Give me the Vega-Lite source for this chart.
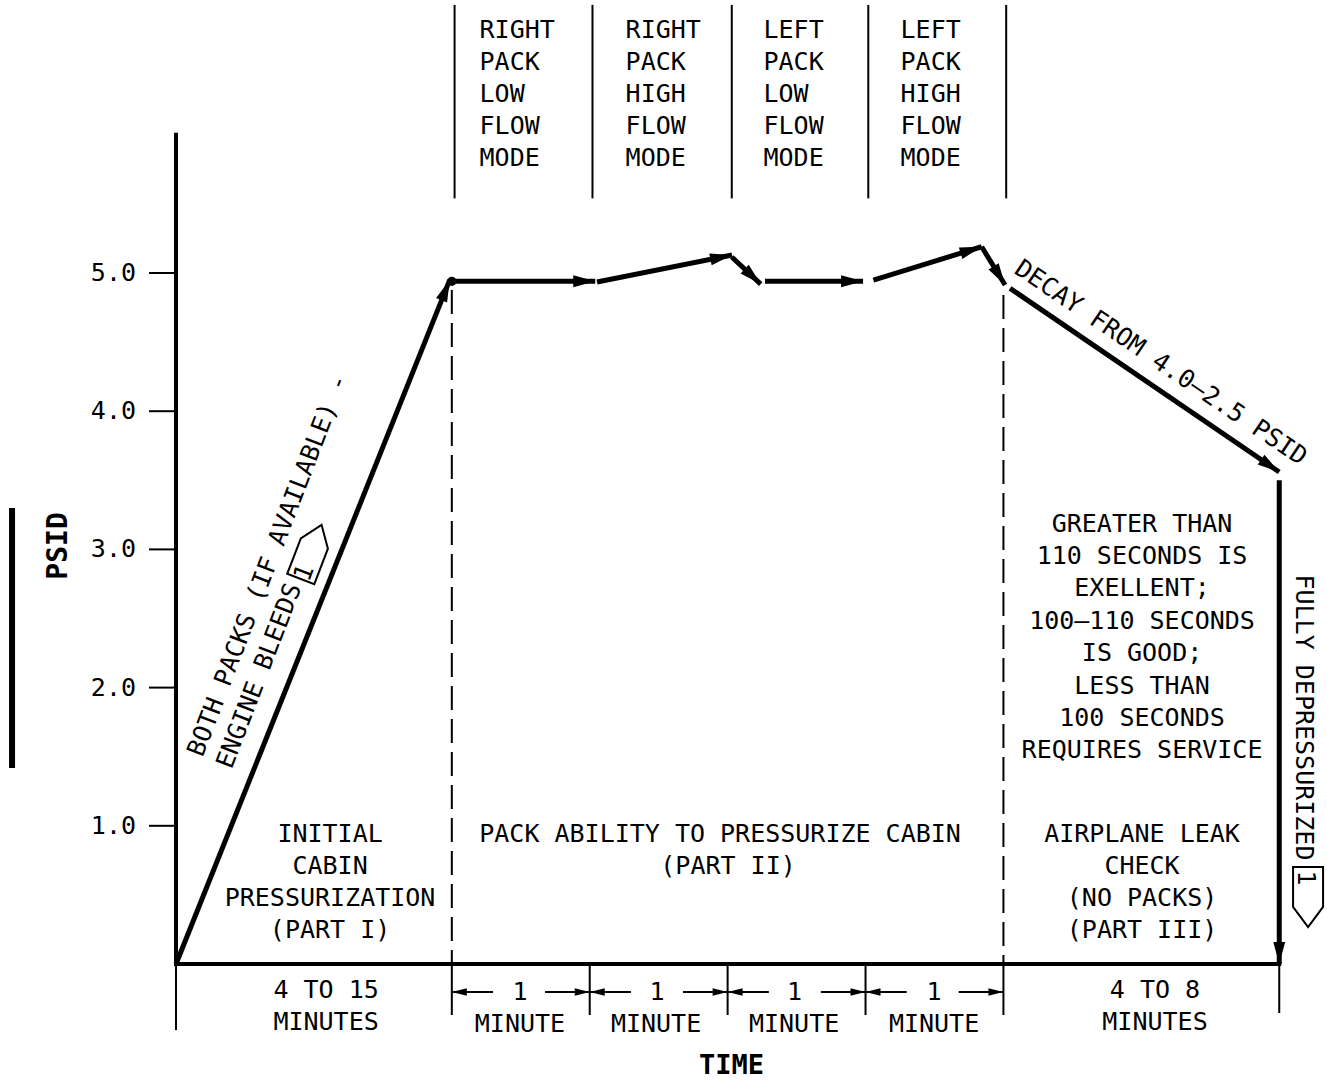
{
  "$schema": "https://vega.github.io/schema/vega-lite/v6.json",
  "width": 1327,
  "height": 1082,
  "autosize": {"type": "none"},
  "padding": 0,
  "background": "white",
  "config": {
    "view": {"stroke": null},
    "text": {"font": "DejaVu Sans Mono", "fontSize": 25, "color": "black", "baseline": "middle"}
  },
  "datasets": {
    "segs": [
      {"k": "thin", "x": 2.02, "y": 5.54, "x2": 2.02, "y2": 6.94},
      {"k": "thin", "x": 3.02, "y": 5.54, "x2": 3.02, "y2": 6.94},
      {"k": "thin", "x": 4.03, "y": 5.54, "x2": 4.03, "y2": 6.94},
      {"k": "thin", "x": 5.02, "y": 5.54, "x2": 5.02, "y2": 6.94},
      {"k": "thin", "x": 6.02, "y": 5.54, "x2": 6.02, "y2": 6.94},
      {"k": "thin", "x": -0.196, "y": 1, "x2": 0, "y2": 1},
      {"k": "thin", "x": -0.196, "y": 2, "x2": 0, "y2": 2},
      {"k": "thin", "x": -0.196, "y": 3, "x2": 0, "y2": 3},
      {"k": "thin", "x": -0.196, "y": 4, "x2": 0, "y2": 4},
      {"k": "thin", "x": -0.196, "y": 5, "x2": 0, "y2": 5},
      {"k": "thin", "x": 0, "y": 0, "x2": 0, "y2": -0.478},
      {"k": "thin", "x": 2, "y": 0, "x2": 2, "y2": -0.369},
      {"k": "thin", "x": 3, "y": 0, "x2": 3, "y2": -0.369},
      {"k": "thin", "x": 4, "y": 0, "x2": 4, "y2": -0.369},
      {"k": "thin", "x": 5, "y": 0, "x2": 5, "y2": -0.369},
      {"k": "thin", "x": 6, "y": 0, "x2": 6, "y2": -0.369},
      {"k": "thin", "x": 8, "y": 0, "x2": 8, "y2": -0.355},
      {"k": "axis", "x": 0, "y": 0, "x2": 8, "y2": 0},
      {"k": "axis", "x": 0, "y": 0, "x2": 0, "y2": 6.0},
      {"k": "dash", "x": 2.0, "y": 4.877, "x2": 2.0, "y2": 0},
      {"k": "dash", "x": 6.0, "y": 4.84, "x2": 6.0, "y2": 0},
      {"k": "rev", "x": -1.189, "y": 3.30, "x2": -1.189, "y2": 1.418},
      {"k": "curve", "arrow": true, "x": 0, "y": 0, "x2": 1.985, "y2": 4.95},
      {"k": "curve", "arrow": true, "x": 2.0, "y": 4.94, "x2": 3.04, "y2": 4.94},
      {"k": "curve", "arrow": true, "x": 3.053, "y": 4.935, "x2": 4.032, "y2": 5.13},
      {"k": "curve", "arrow": true, "x": 4.03, "y": 5.116, "x2": 4.24, "y2": 4.92},
      {"k": "curve", "arrow": true, "x": 4.271, "y": 4.94, "x2": 4.982, "y2": 4.94},
      {"k": "curve", "arrow": true, "x": 5.057, "y": 4.949, "x2": 5.842, "y2": 5.19},
      {"k": "curve", "arrow": true, "x": 5.842, "y": 5.19, "x2": 6.012, "y2": 4.913},
      {"k": "curve", "arrow": true, "x": 6.048, "y": 4.889, "x2": 8.0, "y2": 3.56},
      {"k": "curve", "arrow": true, "x": 8.0, "y": 3.50, "x2": 8.0, "y2": 0.0},
      {"k": "dim", "arrow": true, "x": 2.299, "y": -0.203, "x2": 2.0, "y2": -0.203},
      {"k": "dim", "arrow": true, "x": 2.676, "y": -0.203, "x2": 3.0, "y2": -0.203},
      {"k": "dim", "arrow": true, "x": 3.299, "y": -0.203, "x2": 3.0, "y2": -0.203},
      {"k": "dim", "arrow": true, "x": 3.676, "y": -0.203, "x2": 4.0, "y2": -0.203},
      {"k": "dim", "arrow": true, "x": 4.299, "y": -0.203, "x2": 4.0, "y2": -0.203},
      {"k": "dim", "arrow": true, "x": 4.676, "y": -0.203, "x2": 5.0, "y2": -0.203},
      {"k": "dim", "arrow": true, "x": 5.299, "y": -0.203, "x2": 5.0, "y2": -0.203},
      {"k": "dim", "arrow": true, "x": 5.676, "y": -0.203, "x2": 6.0, "y2": -0.203}
    ],
    "pts": [
      {"r": "dot", "x": 2.0, "y": 4.94},
      {"r": "pent_d", "x": 0.98, "y": 2.982},
      {"r": "pent_v", "x": 8.209, "y": 0.485}
    ],
    "labels": [
      {"g": "hl", "t": "RIGHT", "x": 2.201, "y": 6.758},
      {"g": "hl", "t": "PACK", "x": 2.201, "y": 6.527},
      {"g": "hl", "t": "LOW", "x": 2.201, "y": 6.295},
      {"g": "hl", "t": "FLOW", "x": 2.201, "y": 6.064},
      {"g": "hl", "t": "MODE", "x": 2.201, "y": 5.832},
      {"g": "hl", "t": "RIGHT", "x": 3.26, "y": 6.758},
      {"g": "hl", "t": "PACK", "x": 3.26, "y": 6.527},
      {"g": "hl", "t": "HIGH", "x": 3.26, "y": 6.295},
      {"g": "hl", "t": "FLOW", "x": 3.26, "y": 6.064},
      {"g": "hl", "t": "MODE", "x": 3.26, "y": 5.832},
      {"g": "hl", "t": "LEFT", "x": 4.26, "y": 6.758},
      {"g": "hl", "t": "PACK", "x": 4.26, "y": 6.527},
      {"g": "hl", "t": "LOW", "x": 4.26, "y": 6.295},
      {"g": "hl", "t": "FLOW", "x": 4.26, "y": 6.064},
      {"g": "hl", "t": "MODE", "x": 4.26, "y": 5.832},
      {"g": "hl", "t": "LEFT", "x": 5.254, "y": 6.758},
      {"g": "hl", "t": "PACK", "x": 5.254, "y": 6.527},
      {"g": "hl", "t": "HIGH", "x": 5.254, "y": 6.295},
      {"g": "hl", "t": "FLOW", "x": 5.254, "y": 6.064},
      {"g": "hl", "t": "MODE", "x": 5.254, "y": 5.832},
      {"g": "hr", "t": "1.0", "x": -0.29, "y": 1},
      {"g": "hr", "t": "2.0", "x": -0.29, "y": 2},
      {"g": "hr", "t": "3.0", "x": -0.29, "y": 3},
      {"g": "hr", "t": "4.0", "x": -0.29, "y": 4},
      {"g": "hr", "t": "5.0", "x": -0.29, "y": 5},
      {"g": "hc", "t": "INITIAL", "x": 1.117, "y": 0.941},
      {"g": "hc", "t": "CABIN", "x": 1.117, "y": 0.709},
      {"g": "hc", "t": "PRESSURIZATION", "x": 1.117, "y": 0.477},
      {"g": "hc", "t": "(PART I)", "x": 1.117, "y": 0.246},
      {"g": "hc", "t": "PACK ABILITY TO PRESSURIZE CABIN", "x": 3.945, "y": 0.941},
      {"g": "hc", "t": "(PART II)", "x": 4.003, "y": 0.709},
      {"g": "hc", "t": "AIRPLANE LEAK", "x": 7.005, "y": 0.941},
      {"g": "hc", "t": "CHECK", "x": 7.005, "y": 0.709},
      {"g": "hc", "t": "(NO PACKS)", "x": 7.005, "y": 0.477},
      {"g": "hc", "t": "(PART III)", "x": 7.005, "y": 0.246},
      {"g": "hc", "t": "GREATER THAN", "x": 7.005, "y": 3.184},
      {"g": "hc", "t": "110 SECONDS IS", "x": 7.005, "y": 2.952},
      {"g": "hc", "t": "EXELLENT;", "x": 7.005, "y": 2.721},
      {"g": "hc", "t": "100–110 SECONDS", "x": 7.005, "y": 2.482},
      {"g": "hc", "t": "IS GOOD;", "x": 7.005, "y": 2.25},
      {"g": "hc", "t": "LESS THAN", "x": 7.005, "y": 2.012},
      {"g": "hc", "t": "100 SECONDS", "x": 7.005, "y": 1.78},
      {"g": "hc", "t": "REQUIRES SERVICE", "x": 7.005, "y": 1.548},
      {"g": "hc", "t": "4 TO 15", "x": 1.088, "y": -0.188},
      {"g": "hc", "t": "MINUTES", "x": 1.088, "y": -0.42},
      {"g": "hc", "t": "4 TO 8", "x": 7.099, "y": -0.188},
      {"g": "hc", "t": "MINUTES", "x": 7.099, "y": -0.42},
      {"g": "hc", "t": "1", "x": 2.494, "y": -0.203},
      {"g": "hc", "t": "1", "x": 3.488, "y": -0.203},
      {"g": "hc", "t": "1", "x": 4.485, "y": -0.203},
      {"g": "hc", "t": "1", "x": 5.497, "y": -0.203},
      {"g": "hc", "t": "MINUTE", "x": 2.494, "y": -0.434},
      {"g": "hc", "t": "MINUTE", "x": 3.481, "y": -0.434},
      {"g": "hc", "t": "MINUTE", "x": 4.482, "y": -0.434},
      {"g": "hc", "t": "MINUTE", "x": 5.497, "y": -0.434},
      {"g": "big", "t": "TIME", "x": 4.028, "y": -0.738},
      {"g": "psid", "t": "PSID", "x": -0.845, "y": 3.025},
      {"g": "diag", "t": "BOTH PACKS (IF AVAILABLE) -", "x": 0.138, "y": 1.512},
      {"g": "diag", "t": "ENGINE BLEEDS", "x": 0.348, "y": 1.425},
      {"g": "diag1", "t": "1", "x": 0.928, "y": 2.83},
      {"g": "decay", "t": "DECAY FROM 4.0–2.5 PSID", "x": 7.143, "y": 4.352},
      {"g": "vert", "t": "FULLY DEPRESSURIZED", "x": 8.176, "y": 1.784},
      {"g": "vert", "t": "1", "x": 8.194, "y": 0.622}
    ]
  },
  "encoding": {
    "x": {"field": "x", "type": "quantitative", "scale": {"domain": [-1.2763, 8.3463], "nice": false, "zero": false}, "axis": null},
    "y": {"field": "y", "type": "quantitative", "scale": {"domain": [-0.8538, 6.9754], "nice": false, "zero": false}, "axis": null}
  },
  "layer": [
    {
      "data": {"name": "segs"},
      "transform": [{"filter": "datum.k === 'thin'"}],
      "mark": {"type": "rule", "strokeWidth": 2, "color": "black"},
      "encoding": {"x2": {"field": "x2"}, "y2": {"field": "y2"}}
    },
    {
      "data": {"name": "segs"},
      "transform": [{"filter": "datum.k === 'dim'"}],
      "mark": {"type": "rule", "strokeWidth": 2, "color": "black"},
      "encoding": {"x2": {"field": "x2"}, "y2": {"field": "y2"}}
    },
    {
      "data": {"name": "segs"},
      "transform": [{"filter": "datum.k === 'dash'"}],
      "mark": {"type": "rule", "strokeWidth": 2, "color": "black", "strokeDash": [24, 9]},
      "encoding": {"x2": {"field": "x2"}, "y2": {"field": "y2"}}
    },
    {
      "data": {"name": "segs"},
      "transform": [{"filter": "datum.k === 'axis'"}],
      "mark": {"type": "rule", "strokeWidth": 4, "color": "black", "strokeCap": "square"},
      "encoding": {"x2": {"field": "x2"}, "y2": {"field": "y2"}}
    },
    {
      "data": {"name": "segs"},
      "transform": [{"filter": "datum.k === 'rev'"}],
      "mark": {"type": "rule", "strokeWidth": 6, "color": "black"},
      "encoding": {"x2": {"field": "x2"}, "y2": {"field": "y2"}}
    },
    {
      "data": {"name": "segs"},
      "transform": [{"filter": "datum.k === 'curve'"}],
      "mark": {"type": "rule", "strokeWidth": 5, "color": "black"},
      "encoding": {"x2": {"field": "x2"}, "y2": {"field": "y2"}}
    },
    {
      "data": {"name": "segs"},
      "transform": [
        {"filter": "datum.k === 'curve'"},
        {"calculate": "(atan2(datum.x2 - datum.x, datum.y2 - datum.y) * 180 / PI + 360) % 360", "as": "ang"}
      ],
      "mark": {"type": "point", "shape": "M0,0 L0.27,1 L-0.27,1 Z", "size": 1936, "filled": true, "color": "black", "opacity": 1, "strokeWidth": 0},
      "encoding": {
        "x": {"field": "x2", "type": "quantitative"},
        "y": {"field": "y2", "type": "quantitative"},
        "angle": {"field": "ang", "type": "quantitative", "scale": null}
      }
    },
    {
      "data": {"name": "segs"},
      "transform": [
        {"filter": "datum.k === 'dim'"},
        {"calculate": "(atan2(datum.x2 - datum.x, datum.y2 - datum.y) * 180 / PI + 360) % 360", "as": "ang"}
      ],
      "mark": {"type": "point", "shape": "M0,0 L0.25,1 L-0.25,1 Z", "size": 900, "filled": true, "color": "black", "opacity": 1, "strokeWidth": 0},
      "encoding": {
        "x": {"field": "x2", "type": "quantitative"},
        "y": {"field": "y2", "type": "quantitative"},
        "angle": {"field": "ang", "type": "quantitative", "scale": null}
      }
    },
    {
      "data": {"name": "pts"},
      "transform": [{"filter": "datum.r === 'dot'"}],
      "mark": {"type": "point", "shape": "circle", "size": 85, "filled": true, "color": "black", "opacity": 1}
    },
    {
      "data": {"name": "pts"},
      "transform": [{"filter": "datum.r === 'pent_d'"}],
      "mark": {"type": "point", "shape": "M-0.5,1 L0.5,1 L0.5,-0.31 L0,-1 L-0.5,-0.31 Z", "size": 3364, "angle": 21, "filled": false, "color": "black", "strokeWidth": 2, "opacity": 1}
    },
    {
      "data": {"name": "pts"},
      "transform": [{"filter": "datum.r === 'pent_v'"}],
      "mark": {"type": "point", "shape": "M-0.5,1 L0.5,1 L0.5,-0.333 L0,-1 L-0.5,-0.333 Z", "size": 3600, "angle": 180, "filled": false, "color": "black", "strokeWidth": 2, "opacity": 1}
    },
    {
      "data": {"name": "labels"},
      "transform": [{"filter": "datum.g === 'hc'"}],
      "mark": {"type": "text", "align": "center"},
      "encoding": {"text": {"field": "t"}}
    },
    {
      "data": {"name": "labels"},
      "transform": [{"filter": "datum.g === 'big'"}],
      "mark": {"type": "text", "align": "center", "fontSize": 27, "fontWeight": "bold"},
      "encoding": {"text": {"field": "t"}}
    },
    {
      "data": {"name": "labels"},
      "transform": [{"filter": "datum.g === 'hl'"}],
      "mark": {"type": "text", "align": "left"},
      "encoding": {"text": {"field": "t"}}
    },
    {
      "data": {"name": "labels"},
      "transform": [{"filter": "datum.g === 'hr'"}],
      "mark": {"type": "text", "align": "right"},
      "encoding": {"text": {"field": "t"}}
    },
    {
      "data": {"name": "labels"},
      "transform": [{"filter": "datum.g === 'psid'"}],
      "mark": {"type": "text", "align": "center", "angle": 270, "fontSize": 28, "fontWeight": "bold"},
      "encoding": {"text": {"field": "t"}}
    },
    {
      "data": {"name": "labels"},
      "transform": [{"filter": "datum.g === 'diag'"}],
      "mark": {"type": "text", "align": "left", "angle": 291},
      "encoding": {"text": {"field": "t"}}
    },
    {
      "data": {"name": "labels"},
      "transform": [{"filter": "datum.g === 'diag1'"}],
      "mark": {"type": "text", "align": "center", "angle": 291},
      "encoding": {"text": {"field": "t"}}
    },
    {
      "data": {"name": "labels"},
      "transform": [{"filter": "datum.g === 'decay'"}],
      "mark": {"type": "text", "align": "center", "angle": 34},
      "encoding": {"text": {"field": "t"}}
    },
    {
      "data": {"name": "labels"},
      "transform": [{"filter": "datum.g === 'vert'"}],
      "mark": {"type": "text", "align": "center", "angle": 90},
      "encoding": {"text": {"field": "t"}}
    }
  ]
}
